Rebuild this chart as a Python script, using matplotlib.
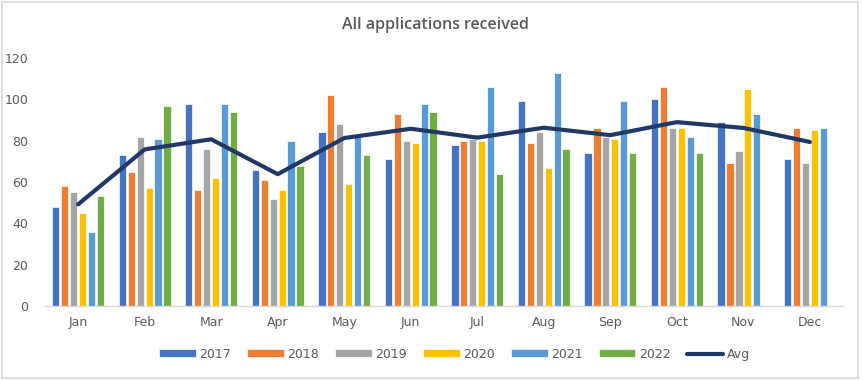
import numpy as np
import matplotlib.pyplot as plt
from matplotlib.patches import Rectangle

# data dibaca dari gambar referensi
months = ['Jan', 'Feb', 'Mar', 'Apr', 'May', 'Jun', 'Jul', 'Aug', 'Sep', 'Oct', 'Nov', 'Dec']
years = ['2017', '2018', '2019', '2020', '2021', '2022']
v2017 = [48, 73, 98, 66, 84, 71, 78, 99, 74, 100, 89, 71]
v2018 = [58, 65, 56, 61, 102, 93, 80, 79, 86, 106, 69, 86]
v2019 = [55, 82, 76, 52, 88, 80, 81, 84, 82, 86, 75, 69]
v2020 = [45, 57, 62, 56, 59, 79, 80, 67, 81, 86, 105, 85]
v2021 = [36, 81, 98, 80, 82, 98, 106, 113, 99, 82, 93, 86]
v2022 = [53, 97, 94, 68, 73, 94, 64, 76, 74, 74, np.nan, np.nan]
avg = [49.2, 75.8, 80.7, 63.8, 81.3, 85.8, 81.5, 86.3, 82.7, 89.0, 86.2, 79.4]

series = [v2017, v2018, v2019, v2020, v2021, v2022]
colors = ['#4472C4', '#ED7D31', '#A5A5A5', '#FFC000', '#5B9BD5', '#70AD47']

fig = plt.figure(figsize=(8.63, 3.80), dpi=100)
ax = fig.add_axes([0.052, 0.195, 0.925, 0.652])

x = np.arange(len(months))
step = 0.134
w = 0.108
handles = []
for i, (vals, c, lab) in enumerate(zip(series, colors, years)):
    b = ax.bar(x + (i - 2.5) * step, vals, width=w, color=c, label=lab,
               edgecolor='white', linewidth=0.5)
    handles.append(b)

ln, = ax.plot(x, avg, color='#203864', lw=3, label='Avg', solid_capstyle='round')
handles.append(ln)

ax.set_xlim(-0.5, len(months) - 0.5)
ax.set_ylim(0, 120)
ax.set_yticks(range(0, 121, 20))
ax.set_xticks(x)
ax.set_xticklabels(months)
ax.tick_params(axis='both', colors='#595959', labelsize=9, length=0)
ax.tick_params(axis='y', pad=12)
ax.tick_params(axis='x', pad=7)
for s in ['top', 'right', 'left']:
    ax.spines[s].set_visible(False)
ax.spines['bottom'].set_color('#D9D9D9')
ax.spines['bottom'].set_linewidth(1)

fig.suptitle('All applications received', x=0.505, y=0.955, fontsize=11.5,
             color='#595959', fontweight='semibold', family='Open Sans')

fig.legend(handles=handles, labels=years + ['Avg'], loc='center',
           bbox_to_anchor=(0.527, 0.068), ncol=7, frameon=False,
           fontsize=9, labelcolor='#595959', handlelength=2.9, handleheight=0.55,
           columnspacing=1.3, handletextpad=0.3)

# bingkai abu-abu
fig.patches.append(Rectangle((0.002, 0.004), 0.992, 0.992, transform=fig.transFigure,
                             fill=False, edgecolor='#D9D9D9', lw=1.2))

fig.savefig('out.png', dpi=100)
